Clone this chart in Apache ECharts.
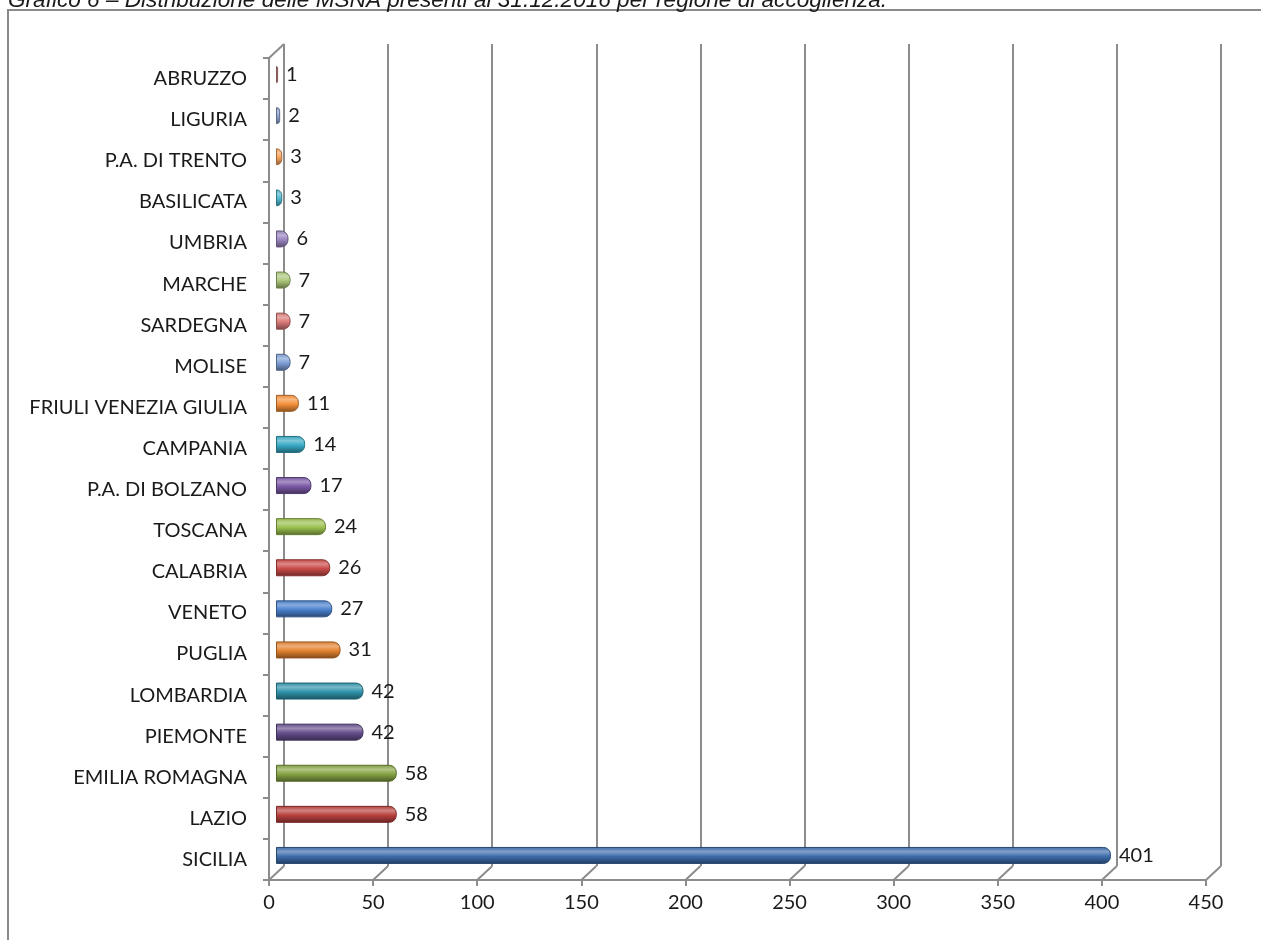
<!DOCTYPE html>
<html>
<head>
<meta charset="utf-8">
<script src="https://cdn.jsdelivr.net/npm/echarts@6/dist/echarts.min.js"></script>
<style>
  html, body { margin: 0; padding: 0; background: #fff; }
  #chart { width: 1261px; height: 940px; }
</style>
</head>
<body>
<div id="chart"></div>
<script>
// Regions, listed from the bottom bar to the top bar
const regions = [
  'SICILIA', 'LAZIO', 'EMILIA ROMAGNA', 'PIEMONTE', 'LOMBARDIA', 'PUGLIA',
  'VENETO', 'CALABRIA', 'TOSCANA', 'P.A. DI BOLZANO', 'CAMPANIA',
  'FRIULI VENEZIA GIULIA', 'MOLISE', 'SARDEGNA', 'MARCHE', 'UMBRIA',
  'BASILICATA', 'P.A. DI TRENTO', 'LIGURIA', 'ABRUZZO'
];
// Unaccompanied minors present on 31.12.2016
const minors = [401, 58, 58, 42, 42, 31, 27, 26, 24, 17, 14, 11, 7, 7, 7, 6, 3, 3, 2, 1];
// Value axis ticks
const xTicks = [0, 50, 100, 150, 200, 250, 300, 350, 400, 450];

// Office-style palette, darker shades first, lighter shades at the top
const palette = [
  '#3d6dac', '#b8403d', '#86a443', '#654e8c', '#3093ab', '#e3822e',
  '#4a80cc', '#c94a48', '#9bc04e', '#7a58a5', '#38a9c5', '#f5903a',
  '#7d9fd6', '#db7a78', '#abc77a', '#9a84bf', '#4fb7d0', '#f9a35c',
  '#8fa4d2', '#c98a88'
];

const FONT = 'Lato';
const GRID_COLOR = '#8c8c8c';
// depth offset between the front plane and the back wall
const DX = 15, DY = 14;

function shade(hex, f) {
  const n = parseInt(hex.slice(1), 16);
  let r = (n >> 16) & 255, g = (n >> 8) & 255, b = n & 255;
  const mix = (c) => f >= 0 ? Math.round(c + (255 - c) * f) : Math.round(c * (1 + f));
  r = mix(r); g = mix(g); b = mix(b);
  return 'rgb(' + r + ',' + g + ',' + b + ')';
}

function cylinder(hex) {
  return {
    type: 'linear', x: 0, y: 0, x2: 0, y2: 1,
    colorStops: [
      { offset: 0, color: shade(hex, -0.05) },
      { offset: 0.28, color: shade(hex, 0.35) },
      { offset: 0.55, color: hex },
      { offset: 1, color: shade(hex, -0.45) }
    ]
  };
}

const barData = minors.map((v, i) => ({
  value: v,
  itemStyle: {
    color: cylinder(palette[i]),
    borderColor: shade(palette[i], -0.35),
    borderWidth: 1,
    borderRadius: [0, 7, 7, 0]
  }
}));

const chart = echarts.init(document.getElementById('chart'), null, { renderer: 'canvas' });

chart.setOption({
  animation: false,
  backgroundColor: '#ffffff',
  graphic: [
    {
      type: 'rect', z: -10, silent: true,
      shape: { x: 8, y: 10, width: 1400, height: 1100 },
      style: { fill: 'none', stroke: '#8a8a8a', lineWidth: 2 }
    },
    {
      type: 'text', left: 8, top: -11, silent: true,
      style: {
        text: 'Grafico 6 – Distribuzione delle MSNA presenti al 31.12.2016 per regione di accoglienza.',
        font: 'italic 22.6px "Liberation Sans", Arial, sans-serif',
        fill: '#1a1a1a'
      }
    }
  ],
  grid: [
    // front plane: axes and labels
    { left: 269, right: 55, top: 58, bottom: 60 },
    // back wall: vertical gridlines
    { left: 269 + DX, right: 55 - DX, top: 58 - DY, bottom: 60 + DY },
    // middle depth: the cylinders
    { left: 276, right: 48, top: 54, bottom: 64 }
  ],
  xAxis: [
    {
      gridIndex: 0, type: 'value', min: 0, max: 450, interval: 50,
      axisLine: { show: true, lineStyle: { color: GRID_COLOR, width: 2 } },
      axisTick: { show: true, length: 6, lineStyle: { color: GRID_COLOR, width: 2 } },
      axisLabel: { margin: 13, fontFamily: FONT, fontSize: 20, color: '#1a1a1a',
                   formatter: (v) => xTicks.indexOf(v) >= 0 ? String(v) : '' },
      splitLine: { show: false }
    },
    {
      gridIndex: 1, type: 'value', min: 0, max: 450, interval: 50,
      axisLine: { show: false }, axisTick: { show: false }, axisLabel: { show: false },
      splitLine: { show: true, showMinLine: true, showMaxLine: true,
                   lineStyle: { color: GRID_COLOR, width: 2 } }
    },
    {
      gridIndex: 2, type: 'value', min: 0, max: 450, interval: 50, show: false
    }
  ],
  yAxis: [
    {
      gridIndex: 0, type: 'category', data: regions,
      axisLine: { show: true, lineStyle: { color: GRID_COLOR, width: 2 } },
      axisTick: { show: true, length: 6, lineStyle: { color: GRID_COLOR, width: 2 } },
      axisLabel: { margin: 22, fontFamily: FONT, fontSize: 20, color: '#1a1a1a', interval: 0 }
    },
    {
      gridIndex: 1, type: 'category', data: regions, show: false
    },
    {
      gridIndex: 2, type: 'category', data: regions, show: false
    }
  ],
  series: [
    {
      // floor and wall edges joining the front axes to the back wall
      type: 'custom',
      xAxisIndex: 0, yAxisIndex: 0,
      data: xTicks.map((t) => [t]),
      silent: true,
      z: 1,
      renderItem: function (params, api) {
        const cs = params.coordSys;
        const bottom = cs.y + cs.height;
        const x = api.coord([api.value(0), 0])[0];
        const children = [{
          type: 'line',
          shape: { x1: x, y1: bottom, x2: x + DX, y2: bottom - DY },
          style: { stroke: GRID_COLOR, lineWidth: 2 }
        }];
        if (params.dataIndex === 0) {
          children.push({
            type: 'line',
            shape: { x1: cs.x, y1: cs.y, x2: cs.x + DX, y2: cs.y - DY },
            style: { stroke: GRID_COLOR, lineWidth: 2 }
          });
        }
        return { type: 'group', children: children };
      }
    },
    {
      type: 'bar',
      xAxisIndex: 2, yAxisIndex: 2,
      data: barData,
      barWidth: 17,
      z: 5,
      label: {
        show: true, position: 'right', distance: 8,
        fontFamily: FONT, fontSize: 20, color: '#1a1a1a'
      }
    }
  ]
});
</script>
</body>
</html>
